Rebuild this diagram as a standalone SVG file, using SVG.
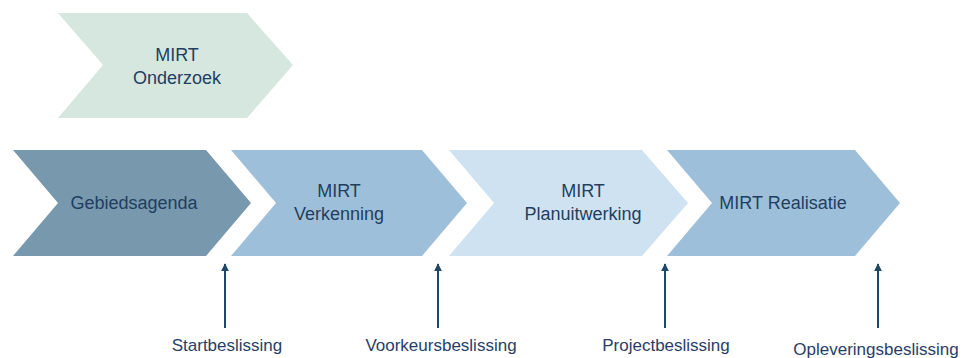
<svg xmlns="http://www.w3.org/2000/svg" width="970" height="358" viewBox="0 0 970 358">
<defs>
<style>
.lbl{font-family:"Liberation Sans",Arial,sans-serif;font-size:18px;fill:#1f3f60;text-anchor:middle}
.dec{font-family:"Liberation Sans",Arial,sans-serif;font-size:17px;fill:#283e68;text-anchor:middle}
.arr{stroke:#1f4868;stroke-width:2;fill:none;marker-end:url(#ah)}
</style>
<marker id="ah" viewBox="0 0 10 10" refX="9" refY="5" markerWidth="4" markerHeight="4" orient="auto" markerUnits="strokeWidth">
<path d="M0,0 L10,5 L0,10 z" fill="#1f4868"/>
</marker>
</defs>
<rect width="970" height="358" fill="#ffffff"/>
<g id="onderzoek">
<polygon points="58,13 247,13 293,65 247,118 58,118 103,65" fill="#d6e7e0"/>
<text class="lbl" x="177" y="61">MIRT</text>
<text class="lbl" x="177" y="84">Onderzoek</text>
</g>
<g id="gebiedsagenda">
<polygon points="13,150 206,150 251,203 206,256 13,256 58,203" fill="#7898ae"/>
<text class="lbl" x="134" y="209">Gebiedsagenda</text>
</g>
<g id="verkenning">
<polygon points="231,150 422,150 467,203 422,256 231,256 276,203" fill="#9ebfd9"/>
<text class="lbl" x="339" y="197">MIRT</text>
<text class="lbl" x="339" y="220">Verkenning</text>
</g>
<g id="planuitwerking">
<polygon points="449,150 642,150 688,203 642,256 449,256 494,203" fill="#cfe2f2"/>
<text class="lbl" x="583" y="197">MIRT</text>
<text class="lbl" x="583" y="220">Planuitwerking</text>
</g>
<g id="realisatie">
<polygon points="667,150 855,150 900,203 855,256 667,256 712,203" fill="#9ebfd9"/>
<text class="lbl" x="783" y="209">MIRT Realisatie</text>
</g>
<g id="connectors">
<line class="arr" x1="225" y1="328" x2="225" y2="264"/>
<line class="arr" x1="438" y1="328" x2="438" y2="264"/>
<line class="arr" x1="665" y1="328" x2="665" y2="264"/>
<line class="arr" x1="878" y1="328" x2="878" y2="264"/>
</g>
<g id="labels">
<text class="dec" x="227" y="351">Startbeslissing</text>
<text class="dec" x="441" y="351">Voorkeursbeslissing</text>
<text class="dec" x="666" y="351">Projectbeslissing</text>
<text class="dec" x="876" y="355">Opleveringsbeslissing</text>
</g>
</svg>
